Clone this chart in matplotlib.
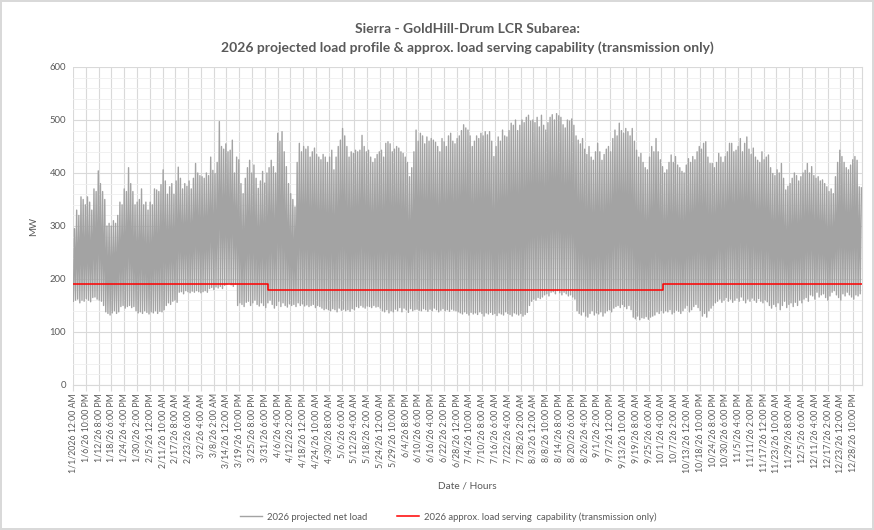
import numpy as np
import matplotlib.pyplot as plt

plt.rcParams['font.family'] = ['Lato', 'DejaVu Sans']

# daily peak of the projected net load, MW (Jan 1 .. Dec 31)
daily_peak_mw = (
    [295, 330, 320, 355, 350, 340, 355, 345, 330, 370, 365, 404, 380, 365, 350, 300,
     305, 300, 310, 305, 320, 345, 340, 370, 365, 410, 380, 365, 340, 345, 350]
    + [370, 340, 345, 330, 345, 340, 370, 368, 365, 378, 406, 385, 360, 374, 380, 360,
       385, 411, 390, 370, 380, 375, 385, 370, 390, 418, 400, 395]
    + [393, 390, 400, 395, 430, 405, 399, 420, 497, 450, 445, 455, 440, 443, 462, 400,
       430, 425, 380, 361, 390, 410, 424, 400, 415, 390, 371, 385, 403, 381, 400]
    + [410, 424, 412, 400, 475, 460, 478, 440, 412, 380, 361, 350, 336, 420, 456, 440,
       450, 445, 450, 430, 440, 447, 435, 430, 425, 435, 430, 420, 430, 443]
    + [406, 430, 450, 462, 484, 470, 450, 430, 440, 437, 443, 440, 443, 471, 450, 440,
       443, 430, 420, 427, 435, 440, 443, 430, 456, 459, 455, 440, 445, 450, 447]
    + [440, 437, 430, 420, 393, 410, 440, 481, 460, 475, 470, 455, 468, 460, 465, 462,
       458, 450, 440, 465, 459, 450, 470, 475, 460, 455, 465, 470, 480, 491]
    + [485, 481, 470, 450, 460, 470, 465, 475, 470, 478, 472, 478, 460, 431, 450, 468,
       460, 481, 470, 468, 480, 494, 490, 500, 480, 490, 500, 495, 505, 509, 498]
    + [500, 495, 505, 487, 509, 490, 481, 495, 505, 510, 500, 512, 508, 505, 491, 485,
       500, 498, 502, 490, 470, 462, 455, 465, 445, 435, 450, 430, 424, 440, 456]
    + [440, 424, 435, 445, 450, 440, 465, 481, 470, 494, 480, 475, 484, 478, 470, 484,
       460, 443, 430, 437, 420, 410, 406, 430, 450, 440, 465, 440, 425, 412]
    + [400, 406, 420, 434, 420, 431, 415, 410, 403, 400, 415, 427, 420, 431, 425, 440,
       450, 445, 456, 459, 430, 418, 418, 410, 420, 437, 430, 420, 431, 440, 456]
    + [456, 440, 443, 450, 465, 440, 456, 468, 445, 435, 447, 430, 424, 420, 440, 425,
       430, 434, 410, 399, 395, 406, 400, 418, 390, 368, 375, 380, 390, 400]
    + [395, 385, 393, 400, 405, 418, 400, 412, 395, 390, 393, 385, 387, 380, 374, 365,
       370, 361, 393, 420, 443, 431, 420, 410, 406, 415, 425, 431, 424, 374, 372]
)

# daily minimum of the projected net load, MW
daily_low_mw = (
    [158, 160, 162, 155, 160, 158, 163, 160, 157, 165, 166, 162, 160, 158, 150, 138,
     135, 132, 136, 140, 135, 138, 148, 150, 145, 148, 150, 146, 148, 140, 136]
    + [138, 135, 140, 137, 134, 138, 136, 140, 135, 139, 138, 142, 150, 155, 152, 158,
       160, 156, 175, 176, 172, 178, 176, 174, 177, 175, 178, 176]
    + [174, 176, 178, 175, 182, 184, 180, 185, 183, 186, 182, 188, 190, 192, 189, 186,
       190, 150, 155, 152, 148, 156, 158, 150, 155, 160, 152, 149, 155, 150, 146]
    + [155, 160, 152, 145, 150, 158, 148, 155, 150, 147, 153, 150, 152, 148, 155, 150,
       153, 149, 151, 148, 150, 152, 146, 150, 148, 145, 142, 144, 142, 140]
    + [144, 142, 138, 145, 141, 143, 140, 142, 139, 144, 142, 148, 146, 150, 147, 145,
       149, 148, 146, 150, 147, 148, 145, 140, 138, 142, 136, 140, 138, 143, 140]
    + [146, 138, 145, 142, 137, 144, 140, 142, 143, 141, 140, 144, 142, 139, 143, 140,
       145, 142, 138, 141, 144, 140, 142, 139, 143, 141, 140, 138, 136, 134]
    + [138, 135, 132, 137, 134, 136, 133, 138, 135, 130, 136, 134, 137, 133, 135, 131,
       136, 134, 132, 138, 135, 133, 130, 136, 134, 132, 135, 130, 133, 137, 150]
    + [158, 162, 160, 165, 163, 166, 170, 172, 168, 175, 176, 172, 178, 174, 170, 175,
       172, 168, 170, 166, 162, 140, 135, 132, 138, 130, 128, 135, 140, 132, 136]
    + [134, 138, 130, 136, 140, 142, 138, 145, 148, 150, 146, 152, 148, 144, 150, 142,
       128, 125, 130, 123, 127, 126, 129, 124, 128, 130, 132, 138, 135, 140]
    + [136, 140, 138, 142, 134, 137, 141, 139, 135, 140, 145, 150, 138, 142, 148, 152,
       146, 140, 130, 135, 128, 140, 145, 150, 155, 158, 162, 156, 160, 165, 158]
    + [162, 156, 160, 164, 158, 166, 160, 155, 162, 158, 164, 160, 156, 163, 158, 155,
       160, 157, 150, 145, 152, 148, 155, 142, 150, 158, 146, 152, 155, 148]
    + [156, 150, 160, 155, 162, 165, 158, 170, 168, 162, 175, 166, 170, 172, 165, 160,
       168, 175, 178, 170, 165, 160, 172, 168, 175, 170, 166, 162, 170, 168, 172]
)

# load serving capability: hour at which each level starts, and the level in MW
lsc_start_hour = [0, 2160, 6552]
lsc_mw = [190, 180, 190]

tick_labels = [
    "1/1/2026 12:00 AM", "1/6/26 10:00 PM", "1/12/26 8:00 PM", "1/18/26 6:00 PM",
    "1/24/26 4:00 PM", "1/30/26 2:00 PM", "2/5/26 12:00 PM", "2/11/26 10:00 AM",
    "2/17/26 8:00 AM", "2/23/26 6:00 AM", "3/2/26 4:00 AM", "3/8/26 2:00 AM",
    "3/14/26 12:00 AM", "3/19/26 10:00 PM", "3/25/26 8:00 PM", "3/31/26 6:00 PM",
    "4/6/26 4:00 PM", "4/12/26 2:00 PM", "4/18/26 12:00 PM", "4/24/26 10:00 AM",
    "4/30/26 8:00 AM", "5/6/26 6:00 AM", "5/12/26 4:00 AM", "5/18/26 2:00 AM",
    "5/24/26 12:00 AM", "5/29/26 10:00 PM", "6/4/26 8:00 PM", "6/10/26 6:00 PM",
    "6/16/26 4:00 PM", "6/22/26 2:00 PM", "6/28/26 12:00 PM", "7/4/26 10:00 AM",
    "7/10/26 8:00 AM", "7/16/26 6:00 AM", "7/22/26 4:00 AM", "7/28/26 2:00 AM",
    "8/3/26 12:00 AM", "8/8/26 10:00 PM", "8/14/26 8:00 PM", "8/20/26 6:00 PM",
    "8/26/26 4:00 PM", "9/1/26 2:00 PM", "9/7/26 12:00 PM", "9/13/26 10:00 AM",
    "9/19/26 8:00 AM", "9/25/26 6:00 AM", "10/1/26 4:00 AM", "10/7/26 2:00 AM",
    "10/13/26 12:00 AM", "10/18/26 10:00 PM", "10/24/26 8:00 PM", "10/30/26 6:00 PM",
    "11/5/26 4:00 PM", "11/11/26 2:00 PM", "11/17/26 12:00 PM", "11/23/26 10:00 AM",
    "11/29/26 8:00 AM", "12/5/26 6:00 AM", "12/11/26 4:00 AM", "12/17/26 2:00 AM",
    "12/23/26 12:00 AM", "12/28/26 10:00 PM",
]

HOURS = 8760
TICK_STEP = 142
TEXT = '#595959'
GRID = '#d9d9d9'

# hourly axis: each day's low in the early morning, peak in the evening
days = np.arange(len(daily_peak_mw))
load_x = np.column_stack([days * 24 + 4, days * 24 + 17]).ravel()
load_y = np.column_stack([daily_low_mw, daily_peak_mw]).ravel()

fig = plt.figure(figsize=(8.74, 5.30), dpi=100)
fig.patch.set_edgecolor(GRID)
fig.patch.set_linewidth(1.5)
ax = fig.add_axes([0.0835, 0.2736, 0.9028, 0.6])

ax.plot(load_x, load_y, color='#a3a3a3', lw=1.0, label='2026 projected net load', zorder=2)
ax.step(lsc_start_hour + [HOURS], lsc_mw + [lsc_mw[-1]], where='post', color='#ff0000',
        lw=1.1, label='2026 approx. load serving  capability (transmission only)', zorder=3)

ax.set_xlim(0, HOURS)
ax.set_ylim(0, 600)
ax.set_yticks(range(0, 601, 100))
ax.set_yticks(range(0, 601, 20), minor=True)
ax.set_xticks(np.arange(len(tick_labels)) * TICK_STEP)
ax.set_xticklabels(tick_labels, rotation=90, fontsize=6.3, color=TEXT)
ax.tick_params(axis='y', which='both', length=0, labelsize=6.8, labelcolor=TEXT, pad=5)
ax.tick_params(axis='x', length=4, color=GRID, pad=2)
ax.grid(True, which='major', color=GRID, lw=0.8, zorder=0)
ax.grid(True, which='minor', axis='y', color='#efefef', lw=0.6, zorder=0)
ax.set_axisbelow(True)
for side in ['left', 'top']:
    ax.spines[side].set_visible(False)
ax.spines['right'].set_color(GRID)
ax.spines['bottom'].set_color(GRID)

ax.set_ylabel('MW', fontsize=7, color=TEXT, labelpad=8)
ax.set_xlabel('Date / Hours', fontsize=7.3, color=TEXT, labelpad=6)
ax.set_title('Sierra - GoldHill-Drum LCR Subarea:\n2026 projected load profile & approx. load serving capability (transmission only)',
             fontsize=10, fontweight='bold', color=TEXT, linespacing=1.55, pad=11)

fig.legend(loc='lower center', bbox_to_anchor=(0.513, 0.0), ncol=2, frameon=False,
           fontsize=6.8, labelcolor=TEXT, handlelength=2.3, handletextpad=0.5,
           columnspacing=3.2)

fig.savefig('out.png', dpi=100)
